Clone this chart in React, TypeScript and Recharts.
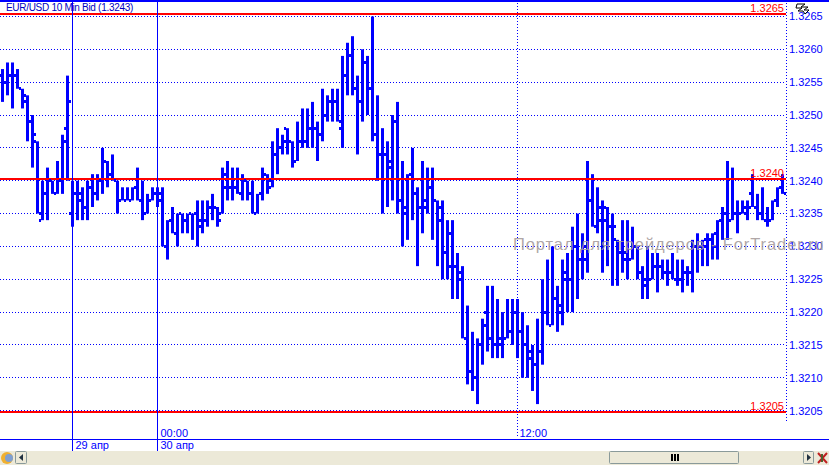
import {
  ComposedChart,
  Bar,
  Line,
  CartesianGrid,
  XAxis,
  YAxis,
  ReferenceLine,
} from "recharts";

// prices are stored as pips above 1.3200
const highPips = [
  57, 58, 58, 57, 54, 53, 50, 46, 40, 42, 40, 43, 47, 56, 40, 40, 39, 40, 41, 41,
  45, 43, 44, 40, 39, 39, 39, 42, 40, 38, 39, 39, 39, 34, 36, 35, 35, 35, 35, 37,
  37, 37, 38, 36, 42, 43, 42, 42, 41, 40, 40, 38, 42, 41, 46, 48, 47, 48, 46, 49,
  51, 51, 52, 49, 54, 53, 54, 54, 59, 61, 62, 56, 60, 59, 65, 53, 48, 46, 50, 52,
  43, 41, 45, 39, 43, 42, 42, 37, 37, 34, 34, 29, 27, 21, 17, 16, 19, 24, 24, 22,
  20, 22, 22, 22, 20, 18, 15, 19, 25, 28, 30, 24, 28, 29, 33, 35, 32, 43, 41, 39,
  37, 36, 35, 31, 34, 34, 33, 30, 27, 30, 29, 29, 28, 28, 29, 28, 28, 27, 31, 32,
  31, 32, 32, 34, 36, 43, 42, 37, 37, 37, 41, 38, 39, 36, 37, 39, 41,
];
const lowPips = [
  52, 53, 51, 54, 51, 46, 42, 35, 34, 34, 38, 38, 38, 40, 33, 34, 34, 34, 36, 37,
  38, 39, 40, 35, 37, 37, 37, 37, 34, 35, 37, 36, 30, 28, 32, 30, 32, 32, 31, 30,
  32, 33, 34, 33, 35, 37, 37, 38, 37, 37, 35, 35, 37, 38, 39, 41, 44, 44, 42, 43,
  45, 45, 45, 43, 46, 49, 49, 49, 45, 53, 53, 44, 49, 50, 46, 40, 35, 36, 37, 35,
  30, 31, 34, 27, 32, 35, 31, 27, 25, 25, 22, 22, 16, 9, 8, 6, 12, 14, 13, 13,
  13, 16, 15, 13, 10, 10, 8, 6, 12, 18, 18, 17, 18, 20, 20, 22, 25, 26, 33, 32,
  26, 27, 24, 24, 26, 25, 28, 25, 22, 22, 25, 23, 25, 24, 25, 24, 23, 24, 23, 26,
  27, 27, 28, 28, 31, 31, 34, 32, 35, 34, 36, 34, 34, 33, 34, 36, 38,
];
const openPips = [
  56, 55, 56, 56, 54, 52, 49, 46, 34, 38, 40, 38, 40, 48, 35, 38, 37, 36, 39, 38,
  40, 43, 41, 40, 37, 37, 37, 39, 37, 35, 37, 38, 38, 30, 34, 32, 35, 34, 35, 35,
  33, 34, 36, 36, 35, 39, 39, 39, 38, 40, 38, 35, 38, 41, 40, 44, 45, 48, 46, 43,
  46, 46, 48, 48, 47, 50, 52, 52, 48, 56, 59, 54, 52, 58, 54, 47, 44, 44, 42, 49,
  37, 36, 41, 38, 36, 37, 39, 37, 34, 29, 32, 27, 25, 16, 11, 10, 15, 20, 16, 15,
  15, 16, 17, 20, 17, 15, 13, 12, 14, 20, 18, 22, 20, 25, 25, 30, 28, 30, 37, 33,
  36, 34, 33, 31, 29, 28, 28, 30, 26, 25, 25, 27, 27, 26, 26, 25, 25, 26, 26, 30,
  30, 31, 31, 32, 34, 35, 34, 35, 35, 35, 38, 36, 35, 34, 34, 37, 39,
];
const closePips = [
  55, 56, 56, 54, 53, 49, 47, 35, 38, 40, 38, 40, 46, 52, 38, 38, 36, 39, 38, 40,
  43, 41, 40, 37, 37, 37, 39, 37, 35, 37, 38, 37, 30, 34, 32, 35, 34, 35, 35, 34,
  34, 36, 36, 34, 41, 39, 39, 38, 40, 38, 35, 38, 41, 39, 44, 45, 46, 46, 43, 46,
  46, 48, 48, 47, 50, 52, 52, 49, 56, 59, 54, 52, 58, 54, 47, 44, 44, 43, 49, 37,
  35, 41, 38, 36, 36, 39, 37, 36, 29, 27, 27, 26, 16, 11, 10, 15, 18, 16, 15, 16,
  16, 17, 20, 17, 15, 14, 12, 14, 20, 18, 22, 21, 26, 25, 30, 28, 28, 37, 33, 34,
  36, 33, 33, 29, 29, 28, 30, 26, 24, 25, 27, 27, 26, 26, 25, 25, 26, 26, 30, 30,
  30, 31, 30, 34, 35, 34, 35, 35, 36, 36, 36, 35, 34, 34, 37, 39, 38,
];

const priceTicks = [
  1.3205, 1.321, 1.3215, 1.322, 1.3225, 1.323, 1.3235, 1.324, 1.3245, 1.325,
  1.3255, 1.326, 1.3265,
];
const alertLevels = [
  { price: 1.32654, label: "1.3265" },
  { price: 1.32402, label: "1.3240" },
  { price: 1.32048, label: "1.3205" },
];

const BLUE = "#0000ff";
const FONT = "'Liberation Sans', Arial, sans-serif";

const data = highPips.map((h, i) => ({
  idx: i,
  range: [1.32 + lowPips[i] / 10000, 1.32 + h / 10000],
  open: 1.32 + openPips[i] / 10000,
  close: 1.32 + closePips[i] / 10000,
}));

function OpenTick(props: any) {
  return (
    <rect x={props.cx - 3.5} y={props.cy - 1.5} width={2} height={3} fill={BLUE} />
  );
}

function CloseTick(props: any) {
  return (
    <rect x={props.cx + 1.5} y={props.cy - 1.5} width={2} height={3} fill={BLUE} />
  );
}

function TimeLabel(props: any) {
  return (
    <text
      x={props.viewBox.x + (props.gap ?? 3)}
      y={props.top}
      fontFamily={FONT}
      fontSize={11}
      fill={BLUE}
    >
      {props.text}
    </text>
  );
}

export default function App() {
  return (
    <div style={{ position: "relative", width: 829, height: 465, background: "#fff", overflow: "hidden" }}>
      <style>{`body{margin:0} .recharts-surface rect, .recharts-cartesian-grid line, .recharts-reference-line line {shape-rendering:crispEdges}`}</style>
      <ComposedChart
        width={829}
        height={451}
        data={data}
        margin={{ top: 0, right: 0, bottom: 0, left: 0 }}
      >
        <CartesianGrid
          vertical={false}
          stroke={BLUE}
          strokeDasharray="1 2"
          syncWithTicks
        />
        <XAxis
          dataKey="idx"
          type="number"
          scale="linear"
          domain={[-0.5, 156.7]}
          hide
        />
        <YAxis
          orientation="right"
          width={43}
          domain={[1.319886, 1.326751]}
          ticks={priceTicks}
          interval={0}
          allowDataOverflow
          axisLine={false}
          tickLine={false}
          tickMargin={-3}
          tickFormatter={(v: number) => v.toFixed(4)}
          tick={{ fill: BLUE, fontSize: 11, fontFamily: FONT }}
        />
        <Bar dataKey="range" barSize={3} fill={BLUE} isAnimationActive={false} />
        <Line dataKey="open" stroke="none" dot={<OpenTick />} activeDot={false} isAnimationActive={false} />
        <Line dataKey="close" stroke="none" dot={<CloseTick />} activeDot={false} isAnimationActive={false} />
        {alertLevels.map((a) => (
          <ReferenceLine
            key={a.label}
            y={a.price}
            stroke="#ff0000"
            strokeWidth={2}
            label={{
              value: a.label,
              position: "insideBottomRight",
              offset: 2,
              fill: "#ff0000",
              fontSize: 11,
              fontFamily: FONT,
            }}
          />
        ))}
        <ReferenceLine x={14} stroke={BLUE} label={<TimeLabel text="29 апр" top={449} />} />
        <ReferenceLine x={31} stroke={BLUE} label={<TimeLabel text="30 апр" top={449} />} />
        <ReferenceLine x={31} stroke="none" label={<TimeLabel text="00:00" top={437} />} />
        <ReferenceLine
          segment={[
            { x: 103, y: 1.326751 },
            { x: 103, y: 1.320085 },
          ]}
          stroke={BLUE}
          strokeDasharray="1 2"
          label={<TimeLabel text="12:00" top={437} gap={2} />}
        />
        <ReferenceLine
          segment={[
            { x: 156.7, y: 1.326751 },
            { x: 156.7, y: 1.32033 },
          ]}
          stroke={BLUE}
          strokeDasharray="1 2"
        />
      </ComposedChart>

      {/* frame lines of the terminal window */}
      <div style={{ position: "absolute", left: 0, top: 0, width: 829, height: 2, background: BLUE }} />
      <div style={{ position: "absolute", left: 0, top: 439, width: 829, height: 1, background: BLUE }} />

      <div style={{ position: "absolute", left: 6, top: 2, fontFamily: FONT, fontSize: 10, lineHeight: "12px", letterSpacing: -0.3, color: "#0000c0", whiteSpace: "nowrap" }}>
        EUR/USD 10 Min Bid (1.3243)
      </div>
      <div style={{ position: "absolute", left: 513, top: 234, fontFamily: FONT, fontSize: 16.5, lineHeight: "20px", letterSpacing: 0.9, color: "rgba(165,155,155,0.9)", whiteSpace: "nowrap" }}>
        Портал для трейдеров - ForTrader.ru
      </div>

      {/* cursor glyph, top right */}
      <svg style={{ position: "absolute", left: 795, top: 1 }} width={18} height={17}>
        <path d="M2 3h8l-4 3h7l-4 3h5l-4 4-2-3H3l4-3H1z" fill="#fff" stroke="#000" strokeWidth={1} />
      </svg>

      {/* bottom tool strip */}
      <div style={{ position: "absolute", left: 0, top: 451, width: 829, height: 14, background: "#ece9d8" }} />
      <svg style={{ position: "absolute", left: 0, top: 451 }} width={829} height={14}>
        <circle cx={7} cy={7} r={6} fill="#f0b030" />
        <circle cx={9} cy={7} r={4} fill="#7f9fd0" />
        <rect x={15.5} y={0.5} width={11} height={12} rx={1} fill="#ece9d8" stroke="#8a9a9a" />
        <path d="M23 3v7l-4-3.5z" fill="#203040" />
        <rect x={609.5} y={0.5} width={129} height={12} rx={1} fill="#ece9d8" stroke="#8a9a9a" />
        <rect x={671} y={3} width={2} height={7} fill="#000" />
        <rect x={674} y={3} width={2} height={7} fill="#000" />
        <rect x={677} y={3} width={2} height={7} fill="#000" />
        <rect x={803.5} y={0.5} width={10} height={12} rx={1} fill="#ece9d8" stroke="#8a9a9a" />
        <path d="M807 3v7l4-3.5z" fill="#203040" />
        <path d="M818 2l9 10M827 2l-9 10" stroke="#c02020" strokeWidth={2} />
        <path d="M822 3v8" stroke="#506030" strokeWidth={2} />
      </svg>
    </div>
  );
}
